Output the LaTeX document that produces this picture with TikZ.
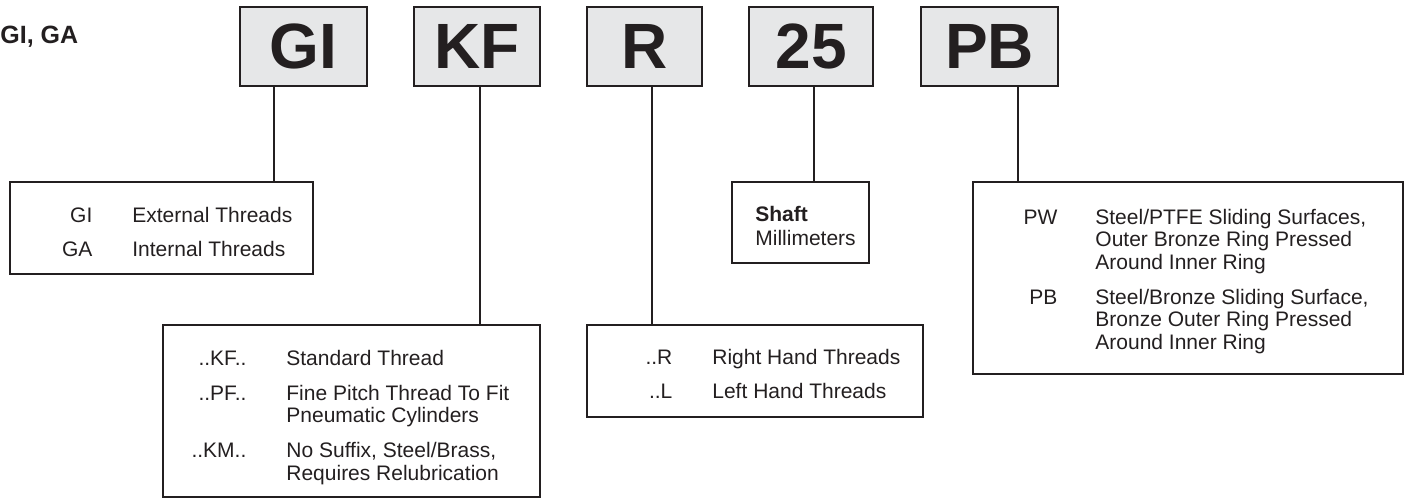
\documentclass[tikz,border=0pt]{standalone}
\usepackage{fontspec}
\setmainfont{Liberation Sans}
\usepackage{array}
\newcolumntype{R}[1]{>{\raggedleft\arraybackslash}p{#1}}
\definecolor{ink}{HTML}{231F20}
\definecolor{boxgray}{HTML}{E6E7E8}

\tikzset{
  partbox/.style={draw=ink, fill=boxgray, line width=1.2pt, minimum height=39.5pt,
    inner sep=0pt, text=ink, font=\fontsize{32}{32}\selectfont\bfseries},
  infobox/.style={draw=ink, line width=1.2pt, inner sep=0pt},
  infotext/.style={anchor=base west, inner sep=0pt, text=ink,
    font=\fontsize{10.5}{11.25}\selectfont},
  link/.style={draw=ink, line width=1.1pt}
}

\begin{document}
\begin{tikzpicture}[x=0.5pt, y=-0.5pt]
    \useasboundingbox (0,0) rectangle (1408,499);

    \node[anchor=base west, inner sep=0pt, text=ink, font=\fontsize{12.5}{15}\selectfont\bfseries] (types) at (0,43) {GI, GA};

    % part number
    \node[partbox, minimum width=63.5pt] (gi) at (303.5,46.5) {GI};
    \node[partbox, minimum width=63pt]   (kf) at (477,46.5)   {KF};
    \node[partbox, minimum width=57.5pt] (r)  at (644.5,46.5) {R};
    \node[partbox, minimum width=62pt]   (mm) at (811,46.5)   {25};
    \node[partbox, minimum width=68.5pt] (pb) at (989.5,46.5) {PB};

    % legend boxes
    \node[infobox, minimum width=151.5pt, minimum height=46pt] (gidesc)    at (161.5,228) {};
    \node[infobox, minimum width=188.5pt, minimum height=86pt] (kfdesc)    at (351.5,411) {};
    \node[infobox, minimum width=168pt,   minimum height=46pt] (rdesc)     at (755,371)   {};
    \node[infobox, minimum width=68.5pt,  minimum height=40.5pt] (mmdesc)  at (800.5,222.5) {};
    \node[infobox, minimum width=215pt,   minimum height=96pt] (pbdesc)    at (1188,278)  {};

    \node[infotext] (gitext) at (12,222) {\begin{tabular}[t]{@{}R{40pt}@{\hspace{20pt}}l@{}}
      GI & External Threads\\[6pt]
      GA & Internal Threads
    \end{tabular}};
    \node[infotext] (kftext) at (166,365) {\begin{tabular}[t]{@{}R{40pt}@{\hspace{20pt}}l@{}}
      ..KF.. & Standard Thread\\[6.25pt]
      ..PF.. & Fine Pitch Thread To Fit\\
             & Pneumatic Cylinders\\[6.25pt]
      ..KM.. & No Suffix, Steel/Brass,\\
             & Requires Relubrication
    \end{tabular}};
    \node[infotext] (rtext) at (592,364) {\begin{tabular}[t]{@{}R{40pt}@{\hspace{20pt}}l@{}}
      ..R & Right Hand Threads\\[6pt]
      ..L & Left Hand Threads
    \end{tabular}};
    \node[infotext] (mmtext) at (755,221) {\begin{tabular}[t]{@{}l@{}}
      \textbf{Shaft}\\[1pt]
      Millimeters
    \end{tabular}};
    \node[infotext] (pbtext) at (977,224) {\begin{tabular}[t]{@{}R{40pt}@{\hspace{19pt}}l@{}}
      PW & Steel/PTFE Sliding Surfaces,\\
         & Outer Bronze Ring Pressed\\
         & Around Inner Ring\\[6.25pt]
      PB & Steel/Bronze Sliding Surface,\\
         & Bronze Outer Ring Pressed\\
         & Around Inner Ring
    \end{tabular}};

    % connectors
    \coordinate (gilink) at (274,0);
    \coordinate (kflink) at (480,0);
    \coordinate (rlink)  at (652,0);
    \coordinate (mmlink) at (814,0);
    \coordinate (pblink) at (1018,0);
    \draw[link] (gi.south -| gilink) -- (gidesc.north -| gilink);
    \draw[link] (kf.south -| kflink) -- (kfdesc.north -| kflink);
    \draw[link] (r.south -| rlink)   -- (rdesc.north -| rlink);
    \draw[link] (mm.south -| mmlink) -- (mmdesc.north -| mmlink);
    \draw[link] (pb.south -| pblink) -- (pbdesc.north -| pblink);
\end{tikzpicture}
\end{document}
